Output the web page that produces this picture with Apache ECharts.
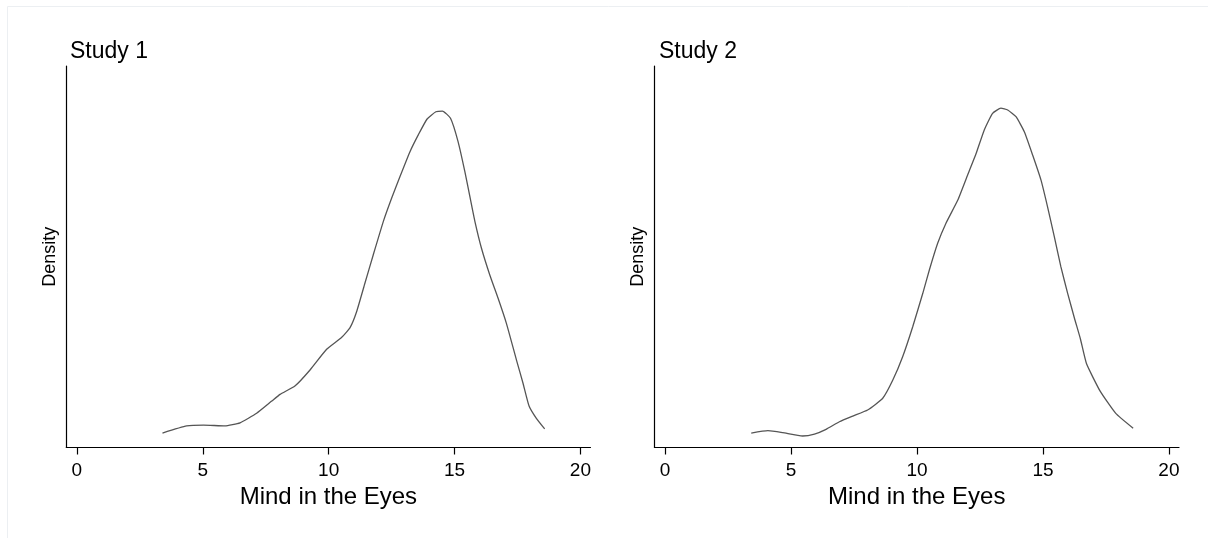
<!DOCTYPE html>
<html>
<head>
<meta charset="utf-8">
<script src="https://cdn.jsdelivr.net/npm/echarts@6/dist/echarts.min.js"></script>
<style>
  html, body { margin: 0; padding: 0; background: #fff; }
  #main { width: 1208px; height: 538px; }
</style>
</head>
<body>
<div id="main"></div>
<script>
// kernel density estimates: [score, density]
var study1 = [
    [3.40, 0.0022], [4.36, 0.0062], [5.03, 0.0067], [5.88, 0.0062], [6.48, 0.0080],
    [7.14, 0.0134], [7.74, 0.0203], [8.07, 0.0241], [8.66, 0.0288], [9.26, 0.0379],
    [9.92, 0.0496], [10.52, 0.0564], [10.85, 0.0619], [11.11, 0.0709], [11.44, 0.0870],
    [11.77, 0.1030], [12.17, 0.1219], [12.50, 0.1351], [12.83, 0.1473], [13.23, 0.1615],
    [13.56, 0.1710], [13.91, 0.1800], [14.26, 0.1841], [14.52, 0.1845], [14.84, 0.1804],
    [15.14, 0.1672], [15.41, 0.1502], [15.61, 0.1360], [15.81, 0.1219], [16.07, 0.1068],
    [16.40, 0.0917], [16.73, 0.0785], [17.06, 0.0643], [17.46, 0.0435], [17.72, 0.0304],
    [17.96, 0.0175], [18.25, 0.0105], [18.58, 0.0045]
];
var study2 = [
    [3.42, 0.0022], [4.08, 0.0035], [4.67, 0.0024], [5.46, 0.0005], [5.93, 0.0016],
    [6.39, 0.0043], [6.92, 0.0086], [7.45, 0.0118], [8.04, 0.0152], [8.64, 0.0219],
    [9.04, 0.0322], [9.43, 0.0454], [9.83, 0.0624], [10.23, 0.0813], [10.49, 0.0945],
    [10.82, 0.1096], [11.15, 0.1210], [11.62, 0.1341], [12.01, 0.1483], [12.35, 0.1606],
    [12.67, 0.1738], [13.00, 0.1832], [13.33, 0.1861], [13.60, 0.1851], [13.93, 0.1813],
    [14.26, 0.1728], [14.59, 0.1596], [14.92, 0.1455], [15.18, 0.1304], [15.45, 0.1134],
    [15.71, 0.0964], [15.98, 0.0813], [16.25, 0.0672], [16.49, 0.0553], [16.73, 0.0414],
    [17.27, 0.0259], [17.89, 0.0133], [18.58, 0.0049]
];
var xTicks = [0, 5, 10, 15, 20];
var titles = ['Study 1', 'Study 2'];

var font = "'Liberation Sans', Arial, Helvetica, sans-serif";
var myChart = echarts.init(document.getElementById('main'));

function xAxis(i) {
    return {
        type: 'value',
        gridIndex: i,
        min: -0.42,
        max: 20.4,
        name: 'Mind in the Eyes',
        nameLocation: 'middle',
        nameGap: 35.5,
        nameTextStyle: { color: '#000', fontSize: 24, fontFamily: font },
        splitLine: { show: false },
        axisLine: { show: true, onZero: false, lineStyle: { color: '#000', width: 1.2 } },
        axisTick: { show: true, customValues: xTicks, length: 7, lineStyle: { color: '#000', width: 1.2 } },
        axisLabel: { show: true, customValues: xTicks, color: '#000', fontSize: 19, fontFamily: font, margin: 13.5 }
    };
}

function yAxis(i) {
    return {
        type: 'value',
        gridIndex: i,
        min: -0.006,
        max: 0.21,
        name: 'Density',
        nameLocation: 'middle',
        nameGap: 7,
        nameTextStyle: { color: '#000', fontSize: 18, fontFamily: font },
        splitLine: { show: false },
        axisLine: { show: true, onZero: false, lineStyle: { color: '#000', width: 1.2 } },
        axisTick: { show: false },
        axisLabel: { show: false }
    };
}

function curve(i, data) {
    return {
        type: 'line',
        xAxisIndex: i,
        yAxisIndex: i,
        data: data,
        symbol: 'none',
        smooth: 0.15,
        lineStyle: { color: '#555', width: 1.3 }
    };
}

myChart.setOption({
    backgroundColor: '#fff',
    animation: false,
    graphic: [{
        type: 'rect',
        shape: { x: 7.5, y: 6.5, width: 1300, height: 600 },
        style: { fill: 'none', stroke: '#eceff2', lineWidth: 1 },
        silent: true
    }],
    title: [
        { text: titles[0], left: 65, top: 35, textStyle: { color: '#000', fontSize: 23, fontWeight: 'normal', fontFamily: font } },
        { text: titles[1], left: 654, top: 35, textStyle: { color: '#000', fontSize: 23, fontWeight: 'normal', fontFamily: font } }
    ],
    grid: [
        { left: 66.3, right: 617.5, top: 66, bottom: 90.5 },
        { left: 654.5, right: 29, top: 66, bottom: 90.5 }
    ],
    xAxis: [xAxis(0), xAxis(1)],
    yAxis: [yAxis(0), yAxis(1)],
    series: [curve(0, study1), curve(1, study2)]
});
</script>
</body>
</html>
